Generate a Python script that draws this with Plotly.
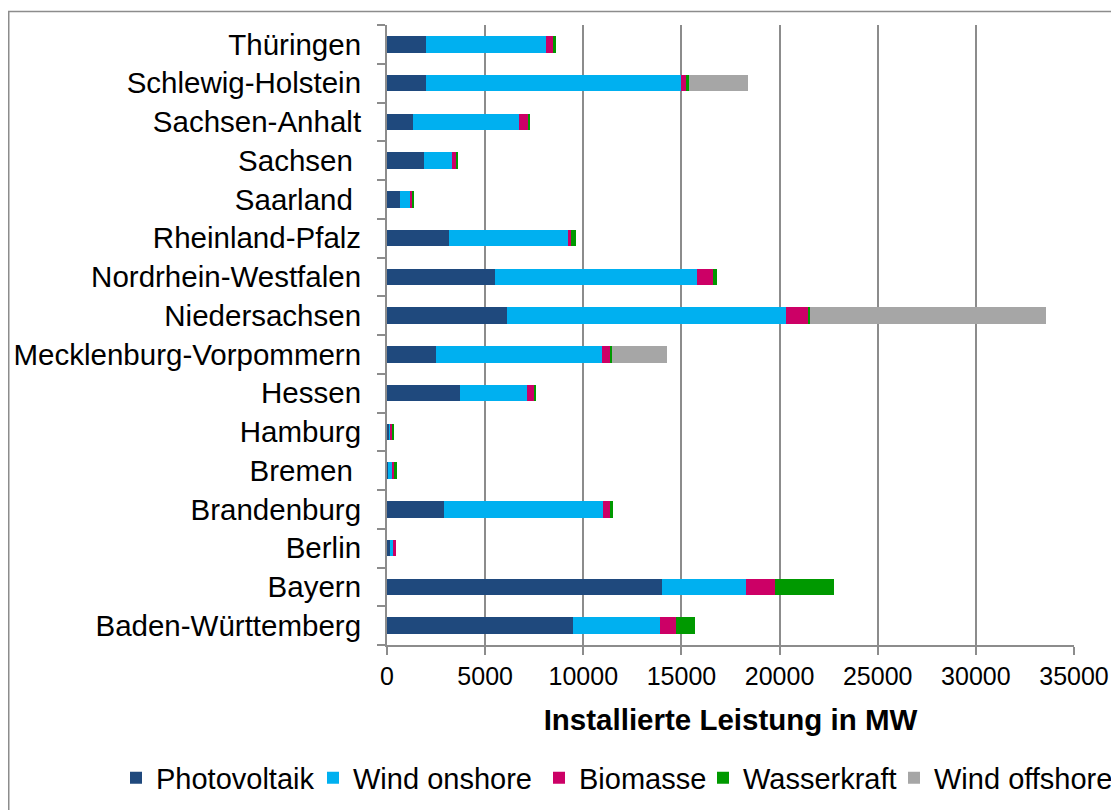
import plotly.graph_objects as go

# The page body has an 8px default margin, so the figure is sized to fill the
# 1119x810 window once that offset is included.
OFF = 8
W, H = 1119 - OFF, 810 - OFF
ML, MR, MT, MB = 387 - OFF, 45, 25 - OFF, 165

states = ["Baden-Württemberg", "Bayern", "Berlin", "Brandenburg", "Bremen\u00a0",
          "Hamburg", "Hessen", "Mecklenburg-Vorpommern", "Niedersachsen",
          "Nordrhein-Westfalen", "Rheinland-Pfalz", "Saarland\u00a0", "Sachsen\u00a0",
          "Sachsen-Anhalt", "Schlewig-Holstein", "Thüringen"]

photovoltaik = [9500, 14000, 150, 2900, 60, 90, 3700, 2500, 6100, 5500, 3150, 680, 1900, 1300, 2000, 2000]
wind_onshore = [4400, 4300, 130, 8100, 230, 110, 3450, 8450, 14250, 10300, 6050, 520, 1400, 5400, 13000, 6100]
biomasse = [800, 1480, 200, 400, 50, 50, 380, 420, 1100, 800, 190, 70, 190, 490, 270, 370]
wasserkraft = [1000, 3000, 0, 100, 150, 130, 70, 80, 100, 200, 220, 120, 110, 110, 100, 120]
wind_offshore = [0, 0, 0, 0, 0, 0, 0, 2800, 12000, 0, 0, 0, 0, 0, 3000, 0]

series = [
    ("Photovoltaik", photovoltaik, "#1F497D"),
    ("Wind onshore", wind_onshore, "#00B0F0"),
    ("Biomasse", biomasse, "#CC0066"),
    ("Wasserkraft", wasserkraft, "#009900"),
    ("Wind offshore", wind_offshore, "#A6A6A6"),
]

FONT = "Liberation Sans, Arial, sans-serif"
GRID = "#8C8C8C"

fig = go.Figure()
legend_names = ["legend", "legend2", "legend3", "legend4", "legend5"]
legend_x = [108, 305, 531, 695, 886]
for (name, vals, col), lg in zip(series, legend_names):
    fig.add_trace(go.Bar(
        y=states, x=vals, name=name, orientation="h",
        marker=dict(color=col, line=dict(width=0)),
        legend=lg,
    ))

layout_legends = {}
for lg, lx in zip(legend_names, legend_x):
    layout_legends[lg] = dict(
        orientation="h", xref="container", yref="container",
        x=lx / W, y=1 - 770 / H, xanchor="left", yanchor="middle",
        font=dict(family=FONT, size=29, color="black"),
        bgcolor="rgba(0,0,0,0)", borderwidth=0,
    )

fig.update_layout(
    width=W, height=H,
    margin=dict(l=ML, r=MR, t=MT, b=MB, pad=0, autoexpand=False),
    paper_bgcolor="white", plot_bgcolor="white",
    barmode="stack", bargap=0.58,
    showlegend=True,
    font=dict(family=FONT, color="black"),
    xaxis=dict(
        range=[0, 35000], tickvals=[0, 5000, 10000, 15000, 20000, 25000, 30000, 35000],
        ticktext=["0", "5000", "10000", "15000", "20000", "25000", "30000", "35000"],
        showgrid=True, gridcolor=GRID, gridwidth=2,
        showline=True, linecolor=GRID, linewidth=2,
        ticks="outside", ticklen=8, tickwidth=2, tickcolor=GRID,
        tickfont=dict(family=FONT, size=25, color="black"),
        zeroline=False, automargin=False,
        title=dict(text="<b>Installierte Leistung in MW</b>",
                   font=dict(family=FONT, size=29.5, color="black"), standoff=20),
    ),
    yaxis=dict(
        type="category", categoryorder="array", categoryarray=states,
        showgrid=False, showline=True, linecolor=GRID, linewidth=2,
        ticks="outside", tickson="boundaries", ticklen=8, tickwidth=2, tickcolor=GRID,
        tickfont=dict(family=FONT, size=29.5, color="black"),
        ticklabelstandoff=18,
        zeroline=False, automargin=False,
    ),
    **layout_legends,
)

pw = W - ML - MR
ph = H - MT - MB
fig.add_shape(type="rect", xref="paper", yref="paper",
              x0=(0.75 - ML) / pw, x1=(W + 20 - ML) / pw,
              y0=(H - MB - (H + 20)) / ph, y1=(H - MB - 3.5) / ph,
              line=dict(color="#8C8C8C", width=1.5), fillcolor="rgba(0,0,0,0)", layer="below")

fig.write_html("out.html")
